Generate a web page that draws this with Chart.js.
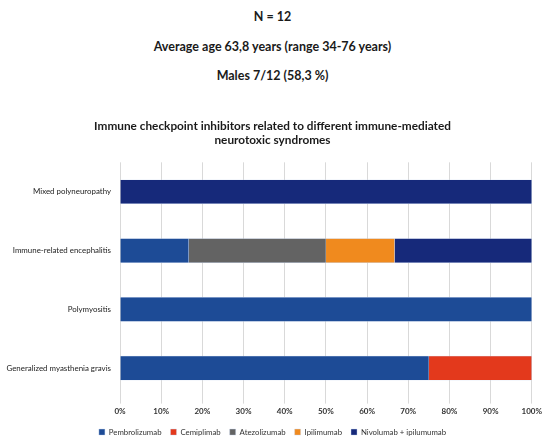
<!DOCTYPE html>
<html>
<head>
  <title>Immune checkpoint inhibitors</title>
  <script src="https://cdn.jsdelivr.net/npm/chart.js"></script>
  <style>
    body { margin: 0; background: #fff; font-family: Lato, sans-serif; overflow: hidden; }
    .head { position: absolute; left: 0; width: 545px; text-align: center; font-weight: bold; font-size: 12.5px; color: #1a1a1a; }
  </style>
</head>
<body>
  <div class="head" style="top:9px;">N = 12</div>
  <div class="head" style="top:39px;">Average age 63,8 years (range 34-76 years)</div>
  <div class="head" style="top:68px;">Males 7/12 (58,3 %)</div>
  <div style="position:absolute; top:110px; left:0; width:545px; height:336px;">
    <canvas id="chart"></canvas>
  </div>

  <script>
    // syndromes, top to bottom
    const syndromes = ['Mixed polyneuropathy', 'Immune-related encephalitis', 'Polymyositis', 'Generalized myasthenia gravis'];

    // share of patients per drug (%)
    const pembrolizumab = [0, 16.67, 100, 75];
    const cemiplimab = [0, 0, 0, 25];
    const atezolizumab = [0, 33.33, 0, 0];
    const ipilimumab = [0, 16.67, 0, 0];
    const nivoIpi = [100, 33.33, 0, 0];

    const xTicks = [0, 10, 20, 30, 40, 50, 60, 70, 80, 90, 100];

    const series = [
      { label: 'Pembrolizumab', data: pembrolizumab, color: '#1d4b96' },
      { label: 'Cemiplimab', data: cemiplimab, color: '#e3391c' },
      { label: 'Atezolizumab', data: atezolizumab, color: '#636363' },
      { label: 'Ipilimumab', data: ipilimumab, color: '#f08a1e' },
      { label: 'Nivolumab + ipilumumab', data: nivoIpi, color: '#16297a' }
    ];

    new Chart(document.getElementById('chart'), {
      type: 'bar',
      data: {
        labels: syndromes,
        datasets: series.map(s => ({
          label: s.label,
          data: s.data,
          backgroundColor: s.color,
          borderColor: 'rgba(200,215,240,0.8)',
          borderWidth: 0.5,
          barThickness: 24
        }))
      },
      options: {
        indexAxis: 'y',
        responsive: true,
        maintainAspectRatio: false,
        animation: false,
        layout: { padding: { left: 0, right: 0, top: 0, bottom: 0 } },
        scales: {
          x: {
            stacked: true,
            min: 0,
            max: 100,
            afterBuildTicks: axis => { axis.ticks = xTicks.map(v => ({ value: v })); },
            grid: { color: '#d9d9d9', lineWidth: 1, drawTicks: true, tickLength: 6 },
            border: { display: false },
            ticks: {
              callback: v => v + '%',
              font: { family: 'Lato', size: 8, weight: 'bold' },
              color: '#333',
              padding: 3
            }
          },
          y: {
            stacked: true,
            grid: { display: false, drawTicks: false },
            border: { display: false },
            afterFit: scale => { scale.width = 120; },
            ticks: {
              font: { family: 'Lato', size: 7.9 },
              color: '#222',
              padding: 9
            }
          }
        },
        plugins: {
          title: {
            display: true,
            text: ['Immune checkpoint inhibitors related to different immune-mediated', 'neurotoxic syndromes'],
            font: { family: 'Lato', size: 11.8, weight: 'bold' },
            color: '#1a1a1a',
            lineHeight: 1.45,
            padding: { top: 9, bottom: 15 }
          },
          legend: {
            position: 'bottom',
            labels: {
              boxWidth: 6,
              boxHeight: 6,
              padding: 9,
              font: { family: 'Lato', size: 7.8 },
              color: '#333'
            }
          },
          tooltip: { enabled: false }
        }
      }
    });
  </script>
</body>
</html>
